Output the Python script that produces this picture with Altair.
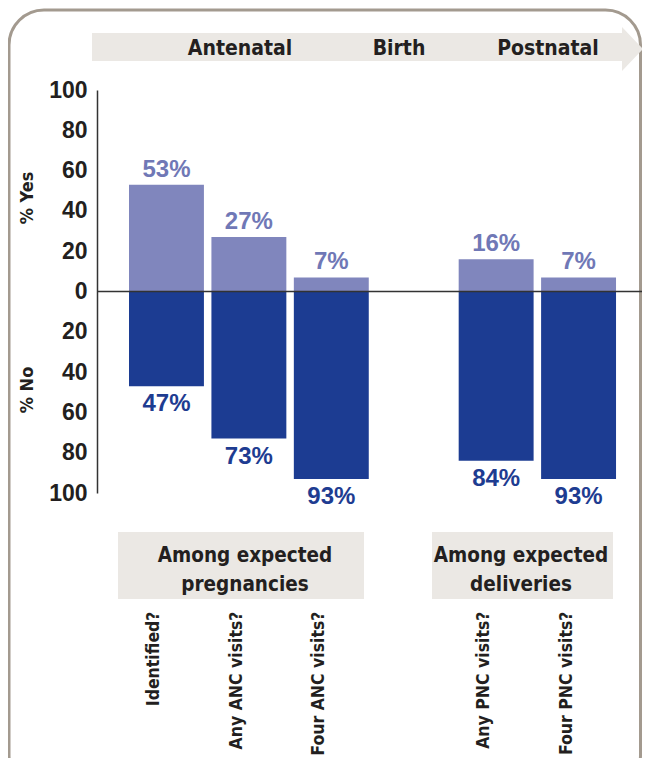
import altair as alt
import pandas as pd

# ---- data ----
categories = ["Identified?", "Any ANC visits?", "Four ANC visits?", "Any PNC visits?", "Four PNC visits?"]
yes_values = [53, 27, 7, 16, 7]
no_values = [47, 73, 93, 84, 93]
slot_order = ["Identified?", "Any ANC visits?", "Four ANC visits?", "", "Any PNC visits?", "Four PNC visits?"]
stages = ["Antenatal", "Birth", "Postnatal"]
group_lines = [["Among expected", "pregnancies"], ["Among expected", "deliveries"]]
y_ticks = [-100, -80, -60, -40, -20, 0, 20, 40, 60, 80, 100]
axis_titles = ["% Yes", "% No"]

# ---- styles ----
YES_BAR = "#8086bd"
NO_BAR = "#1c3c92"
YES_TXT = "#7078b6"
NO_TXT = "#1e3c91"
INK = "#231f20"
PANEL = "#ebe8e4"
BORDER = "#a39a8f"
NARROW = "'DejaVu Sans Condensed', 'Liberation Sans', sans-serif"
SANS = "'Liberation Sans', Arial, sans-serif"

df = pd.DataFrame({
    "category": categories,
    "yes": yes_values,
    "neg_no": [-v for v in no_values],
    "yes_label": [f"{v}%" for v in yes_values],
    "no_label": [f"{v}%" for v in no_values],
})

x_axis = alt.Axis(
    labelAngle=270, labelAlign="right", labelBaseline="middle",
    labelPadding=118, labelOffset=-12, ticks=False, domain=False,
    labelFont=NARROW, labelFontWeight="bold", labelFontSize=17.5,
    labelColor=INK, labelLimit=0, title=None,
)
x_enc = alt.X(
    "category:N",
    scale=alt.Scale(domain=slot_order, paddingInner=0.0909, paddingOuter=0.3517, align=0.552),
    axis=x_axis, title=None,
)
y_scale = alt.Scale(domain=[-100, 100], nice=False)
y_axis = alt.Axis(
    values=y_ticks, labelExpr="abs(datum.value)", domain=True,
    domainColor="#333333", domainWidth=1.5, ticks=False, grid=False,
    labelFont=SANS, labelFontWeight="bold", labelFontSize=23,
    labelColor=INK, labelPadding=10, labelOverlap=False, title=None,
)

base = alt.Chart(df)

yes_bars = base.mark_bar(color=YES_BAR).encode(
    x=x_enc, y=alt.Y("yes:Q", scale=y_scale, axis=y_axis, title=None)
)
no_bars = base.mark_bar(color=NO_BAR).encode(
    x=x_enc, y=alt.Y("neg_no:Q", scale=y_scale, axis=y_axis, title=None)
)
zero_rule = alt.Chart(pd.DataFrame({"z": [0]})).mark_rule(
    color="#333333", strokeWidth=1.5
).encode(y=alt.Y("z:Q", scale=y_scale, axis=y_axis, title=None))

yes_text = base.mark_text(
    dy=-8, baseline="alphabetic", font=SANS, fontWeight="bold", fontSize=24, color=YES_TXT
).encode(x=x_enc, y=alt.Y("yes:Q", scale=y_scale, axis=y_axis, title=None), text="yes_label:N")
no_text = base.mark_text(
    dy=25, baseline="alphabetic", font=SANS, fontWeight="bold", fontSize=24, color=NO_TXT
).encode(x=x_enc, y=alt.Y("neg_no:Q", scale=y_scale, axis=y_axis, title=None), text="no_label:N")

one = pd.DataFrame({"k": [0]})

# decorative frame
frame = alt.Chart(one).mark_rect(
    cornerRadius=35, fillOpacity=0, stroke=BORDER, strokeWidth=3
).encode(x=alt.value(-88), x2=alt.value(543.5), y=alt.value(-80), y2=alt.value(700))

# timeline arrow
band = alt.Chart(one).mark_rect(color=PANEL).encode(
    x=alt.value(-5), x2=alt.value(525), y=alt.value(-57), y2=alt.value(-29)
)
head = alt.Chart(one).mark_point(
    shape="M0,-1L0.955,0L0,1Z", size=1936, filled=True, color=PANEL, opacity=1, strokeWidth=0
).encode(x=alt.value(525), y=alt.value(-41))

stage_x = [143, 302, 451]
stage_layers = [
    alt.Chart(one).mark_text(
        text=s, font=NARROW, fontWeight="bold", fontSize=21, color=INK,
        align="center", baseline="alphabetic"
    ).encode(x=alt.value(px), y=alt.value(-35))
    for s, px in zip(stages, stage_x)
]

# group boxes
box_x = [(21, 267), (335, 516)]
box_layers = [
    alt.Chart(one).mark_rect(color=PANEL).encode(
        x=alt.value(a), x2=alt.value(b), y=alt.value(442), y2=alt.value(509)
    )
    for a, b in box_x
]
text_cx = [148, 424]
line_y = [472, 501]
group_text_layers = []
for lines, cx in zip(group_lines, text_cx):
    for line, ly in zip(lines, line_y):
        group_text_layers.append(
            alt.Chart(one).mark_text(
                text=line, font=NARROW, fontWeight="bold", fontSize=20.5, color=INK,
                align="center", baseline="alphabetic"
            ).encode(x=alt.value(cx), y=alt.value(ly))
        )

# y axis titles
title_y = [108, 300]
title_layers = [
    alt.Chart(one).mark_text(
        text=t, font=NARROW, fontWeight="bold", fontSize=18, color=INK,
        align="center", baseline="middle", angle=270
    ).encode(x=alt.value(-69), y=alt.value(ty))
    for t, ty in zip(axis_titles, title_y)
]

chart = alt.layer(
    frame, band, head, *box_layers,
    yes_bars, no_bars, zero_rule, yes_text, no_text,
    *stage_layers, *group_text_layers, *title_layers,
).properties(
    width=545, height=403,
    autosize=alt.AutoSizeParams(type="none"),
    padding={"left": 89, "top": 82, "right": 0, "bottom": 265},
).configure_view(stroke=None).configure_axis(grid=False)

chart.save("out.html", embed_options={"renderer": "svg", "actions": False})
